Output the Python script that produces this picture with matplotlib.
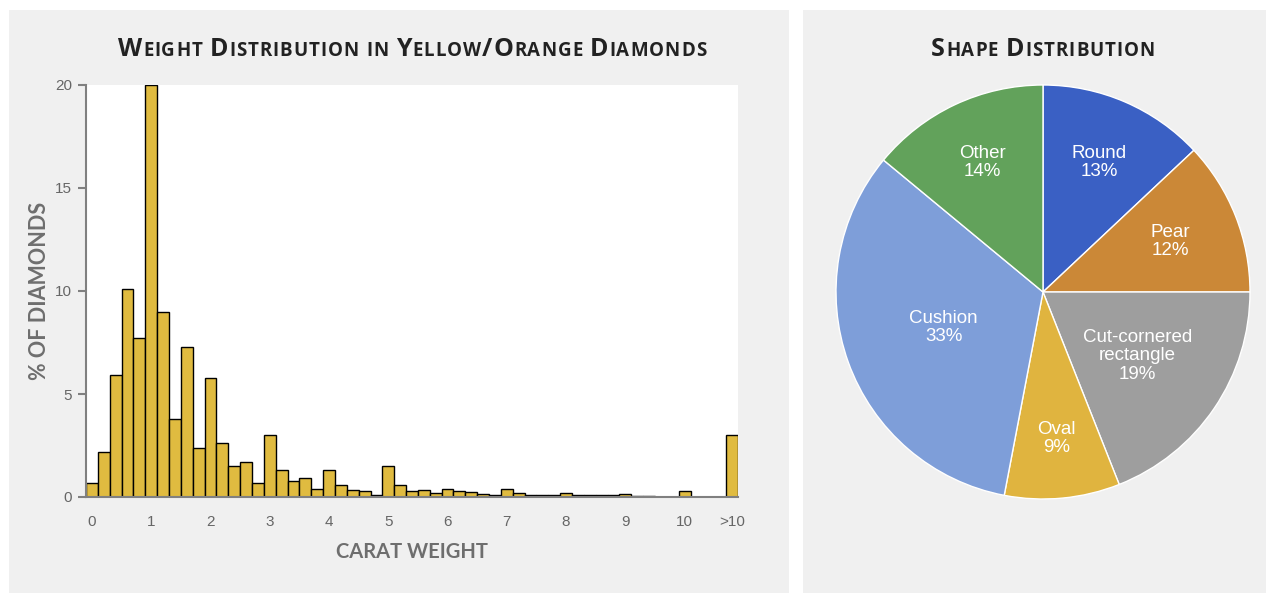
import numpy as np
import matplotlib.pyplot as plt
from matplotlib.patches import Rectangle
from matplotlib.offsetbox import TextArea, HPacker, AnnotationBbox

# histogram data: % of diamonds per 0.2 ct bin (0.0 ... 10.6 ct), plus the >10 ct bar
bin_width = 0.2
pct_diamonds = [
    0.7, 2.2, 5.9, 10.1, 7.7, 20.0, 9.0, 3.8, 7.3, 2.4,
    5.8, 2.6, 1.5, 1.7, 0.7, 3.0, 1.3, 0.8, 0.9, 0.4,
    1.3, 0.6, 0.35, 0.3, 0.1, 1.5, 0.6, 0.3, 0.35, 0.2,
    0.4, 0.3, 0.25, 0.15, 0.1, 0.4, 0.2, 0.1, 0.1, 0.1,
    0.2, 0.1, 0.1, 0.1, 0.1, 0.15, 0.05, 0.05, 0.0, 0.0,
    0.3, 0.0, 0.0, 0.0,
]
pct_over_10 = 3.0
x_ticks = [0, 1, 2, 3, 4, 5, 6, 7, 8, 9, 10, 10.8]
x_ticklabels = ["0", "1", "2", "3", "4", "5", "6", "7", "8", "9", "10", ">10"]
y_ticks = [0, 5, 10, 15, 20]

# pie data
shapes = ["Round", "Pear", "Cut-cornered\nrectangle", "Oval", "Cushion", "Other"]
shape_pct = [13, 12, 19, 9, 33, 14]
shape_colors = ["#3a60c4", "#cb8837", "#9e9e9e", "#e0b43f", "#7e9ed9", "#62a25b"]
label_radius = [0.68, 0.66, 0.55, 0.71, 0.51, 0.69]

title_font = "Open Sans"
label_font = "Lato"
panel_bg = "#f0f0f0"
gray = "#666666"


def small_caps(fig, text, xy, big=18, small=13.5, color="#222222", tracking=0.7):
    # fake small caps: capitals big, lower case letters as small capitals,
    # one TextArea per letter so a bit of letter spacing can be added
    words = []
    for word in text.split(" "):
        parts = [TextArea(ch.upper(), textprops=dict(fontsize=small if ch.islower() else big,
                                                     fontweight="bold", color=color,
                                                     family=title_font))
                 for ch in word]
        words.append(HPacker(children=parts, align="baseline", pad=0, sep=tracking))
    box = HPacker(children=words, align="baseline", pad=0, sep=big * 0.3)
    ab = AnnotationBbox(box, xy, xycoords="figure pixels", frameon=False,
                        box_alignment=(0.5, 0.5))
    fig.add_artist(ab)


W, H = 1276, 593
fig = plt.figure(figsize=(W / 100, H / 100), dpi=100)
fig.patch.set_facecolor("white")

# grey panels behind both charts
fig.patches.append(Rectangle((9 / W, 0), 780 / W, 583 / H, transform=fig.transFigure,
                             facecolor=panel_bg, edgecolor="none", zorder=-10))
fig.patches.append(Rectangle((803 / W, 0), 463 / W, 583 / H, transform=fig.transFigure,
                             facecolor=panel_bg, edgecolor="none", zorder=-10))

# ---- histogram ----
ax = fig.add_axes([86 / W, 96 / H, 652 / W, 412 / H])
centers = np.arange(len(pct_diamonds)) * bin_width
heights = np.array(pct_diamonds)
mask = heights > 0
ax.bar(centers[mask], heights[mask], width=bin_width, color="#e0bb40",
       edgecolor="black", linewidth=1)
ax.bar([x_ticks[-1]], [pct_over_10], width=bin_width, color="#e0bb40",
       edgecolor="black", linewidth=1)

ax.set_xlim(-0.1, 10.9)
ax.set_ylim(0, 20)
ax.set_yticks(y_ticks)
ax.set_xticks(x_ticks)
ax.set_xticklabels(x_ticklabels)
for s in ["top", "right"]:
    ax.spines[s].set_visible(False)
for s in ["left", "bottom"]:
    ax.spines[s].set_color("#808080")
    ax.spines[s].set_linewidth(1.5)
ax.tick_params(axis="y", length=6, width=1.5, color="#808080", labelcolor=gray,
               labelsize=11, pad=4)
ax.tick_params(axis="x", length=0, labelcolor=gray, labelsize=11, pad=13)
for lab in ax.get_xticklabels() + ax.get_yticklabels():
    lab.set_family("Liberation Sans")

ax.set_ylabel("% OF DIAMONDS", fontsize=15.5, fontweight="bold", color="#6e6e6e",
              family=label_font, labelpad=4)
ax.set_xlabel("CARAT WEIGHT", fontsize=14.5, fontweight="bold", color="#6e6e6e",
              family=label_font, labelpad=9)

small_caps(fig, "Weight Distribution in Yellow/Orange Diamonds", (412, H - 49))

# ---- pie ----
ax2 = fig.add_axes([836 / W, 94 / H, 414 / W, 414 / H])
wedges, _ = ax2.pie(shape_pct, colors=shape_colors, startangle=90, counterclock=False,
                    radius=1, wedgeprops=dict(edgecolor="white", linewidth=1))
ax2.set_xlim(-1, 1)
ax2.set_ylim(-1, 1)

for w, name, pct, r in zip(wedges, shapes, shape_pct, label_radius):
    ang = np.deg2rad((w.theta1 + w.theta2) / 2)
    ax2.text(r * np.cos(ang), r * np.sin(ang), f"{name}\n{pct}%", ha="center",
             va="center", color="white", fontsize=13.5, linespacing=1.1,
             family="Liberation Sans")

small_caps(fig, "Shape Distribution", (1043, H - 49))

plt.savefig("out.png", dpi=100, facecolor=fig.get_facecolor())
